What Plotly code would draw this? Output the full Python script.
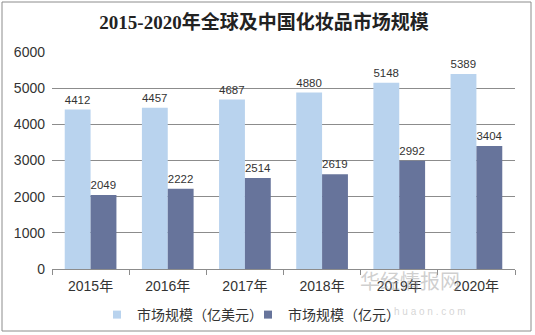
import plotly.graph_objects as go

years = ["2015年", "2016年", "2017年", "2018年", "2019年", "2020年"]
global_usd = [4412, 4457, 4687, 4880, 5148, 5389]
china_cny = [2049, 2222, 2514, 2619, 2992, 3404]
series_names = ["市场规模（亿美元）", "市场规模（亿元）"]
title_text = "2015-2020年全球及中国化妆品市场规模"
colors = ["#B9D3EE", "#67749B"]

W, H = 535, 335
L, R, T, B = 52, 20, 52, 66
pw, ph = W - L - R, H - T - B

def px_x(x):
    return (x - L) / pw

def px_y(y):
    return (H - B - y) / ph

fig = go.Figure()
for vals, name, col in [(global_usd, series_names[0], colors[0]), (china_cny, series_names[1], colors[1])]:
    fig.add_trace(go.Bar(
        x=years, y=vals, name=name, showlegend=False,
        marker=dict(color=col, line=dict(width=0)),
        text=[str(v) for v in vals], textposition="outside",
        textfont=dict(size=12, color="#333333", family="Liberation Sans, Arial"),
        cliponaxis=False,
    ))
# legend entries with square markers
for name, col in zip(series_names, colors):
    fig.add_trace(go.Scatter(
        x=[None], y=[None], mode="markers", name=name,
        marker=dict(symbol="square", size=8, color=col),
    ))

fig.update_layout(
    width=W, height=H,
    margin=dict(l=L, r=R, t=T, b=B, autoexpand=False),
    paper_bgcolor="white", plot_bgcolor="white",
    barmode="group", bargap=0.33, bargroupgap=0,
    showlegend=True,
    legend=dict(orientation="h", x=px_x(97), xanchor="left", y=px_y(315), yanchor="middle",
                font=dict(size=14, color="#333333", family="Noto Sans CJK SC"),
                itemwidth=30, traceorder="normal", tracegroupgap=0,
                entrywidth=106, entrywidthmode="pixels",
                bgcolor="rgba(0,0,0,0)"),
    title=dict(text="<b>" + title_text + "</b>", x=264 / W, xanchor="center",
               y=1 - 22 / H, yanchor="middle",
               font=dict(size=19, color="#222222", family="Liberation Serif, Noto Sans CJK SC")),
    font=dict(family="Liberation Sans, Noto Sans CJK SC", color="#333333"),
)
fig.update_yaxes(range=[0, 6000], dtick=1000, showgrid=True, gridcolor="#8C8C8C", gridwidth=1,
                 zeroline=False, showline=False, ticks="",
                 tickfont=dict(size=14, color="#333333", family="Liberation Sans"),
                 ticklabelstandoff=6)
fig.update_xaxes(showline=True, linecolor="#8C8C8C", linewidth=1, ticks="outside",
                 tickson="boundaries", ticklen=5, tickcolor="#8C8C8C",
                 ticklabelstandoff=4,
                 tickfont=dict(size=14, color="#333333", family="Liberation Sans, Noto Sans CJK SC"))

# outer border
fig.add_shape(type="rect", xref="paper", yref="paper",
              x0=px_x(2), x1=px_x(531), y0=px_y(331), y1=px_y(2),
              line=dict(color="#8C8C8C", width=1), fillcolor="rgba(0,0,0,0)", layer="below")

# watermark
fig.add_annotation(xref="paper", yref="paper", x=px_x(462), y=px_y(297), text="华经情报网",
                   showarrow=False, font=dict(size=20, color="rgba(160,160,160,0.5)",
                                               family="Noto Sans CJK SC"))
fig.add_annotation(xref="paper", yref="paper", x=px_x(468), y=px_y(319), text="h u a o n . c o m",
                   showarrow=False, font=dict(size=10, color="rgba(170,170,170,0.5)",
                                               family="Liberation Sans"))

fig.write_html("out.html")
